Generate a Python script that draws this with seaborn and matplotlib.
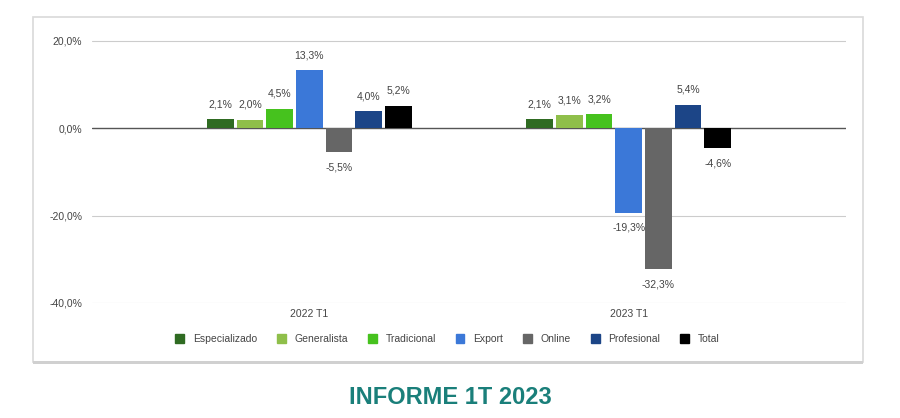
import matplotlib
matplotlib.use("Agg")
import matplotlib.pyplot as plt
import matplotlib.patches as mpatches
import seaborn as sns
import pandas as pd

periods = ["2022 T1", "2023 T1"]
channels = ["Especializado", "Generalista", "Tradicional", "Export", "Online", "Profesional", "Total"]
values_2022 = [2.1, 2.0, 4.5, 13.3, -5.5, 4.0, 5.2]
values_2023 = [2.1, 3.1, 3.2, -19.3, -32.3, 5.4, -4.6]
colors = ["#2f6b22", "#8fbf4a", "#46c21e", "#3b78d8", "#666666", "#1c4587", "#000000"]
yticks = [20, 0, -20, -40]
title = "INFORME 1T 2023"

rows = []
for p, vals in zip(periods, [values_2022, values_2023]):
    for c, v in zip(channels, vals):
        rows.append({"period": p, "channel": c, "value": v})
df = pd.DataFrame(rows)

sns.set_theme(style="white")
plt.rcParams["font.family"] = ["Liberation Sans", "DejaVu Sans"]

fig = plt.figure(figsize=(9, 4.18), dpi=100)
# card border
fig.patches.append(mpatches.Rectangle((33/900, 1-362/418), (863-33)/900, (362-17)/418,
                                      transform=fig.transFigure, fill=False,
                                      edgecolor="#d9d9d9", linewidth=1.2))
fig.patches.append(mpatches.Rectangle((33/900, 1-364/418), (863-33)/900, 3/418,
                                      transform=fig.transFigure, color="#d0d0d0", linewidth=0))

ax = fig.add_axes([92/900, 1-303/418, (846-92)/900, (303-30)/418])
sns.barplot(data=df, x="period", y="value", hue="channel", hue_order=channels,
            palette=colors, width=0.65, gap=0.1, ax=ax, legend=False,
            saturation=1, linewidth=0)

ax.set_xlim(-0.68, 1.68)
ax.set_ylim(-40, 22.5)
ax.set_yticks(yticks)
ax.set_yticklabels([f"{t:.1f}".replace(".", ",") + "%" for t in yticks])
for t in yticks:
    ax.axhline(t, color="#cccccc" if t != 0 else "#555555", linewidth=0.8 if t != 0 else 1.0, zorder=0.5)
for s in ax.spines.values():
    s.set_visible(False)
ax.tick_params(axis="y", length=0, labelsize=7.5, colors="#444444", pad=7)
ax.tick_params(axis="x", length=0, labelsize=7.5, colors="#444444", pad=4)
ax.set_xlabel("")
ax.set_ylabel("")
ax.patch.set_alpha(0)

for cont in ax.containers:
    labels = [f"{b.get_height():.1f}".replace(".", ",") + "%" for b in cont]
    ax.bar_label(cont, labels=labels, padding=7, fontsize=7.5, color="#444444")

handles = [mpatches.Patch(color=c, label=ch) for c, ch in zip(colors, channels)]
fig.legend(handles=handles, loc="center", bbox_to_anchor=(0.497, 1-339/418), ncol=7,
           frameon=False, fontsize=7.5, handlelength=0.85, handleheight=0.85,
           handletextpad=0.85, columnspacing=1.9, labelcolor="#444444")

fig.text(0.5, 1-397/418, title, ha="center", va="center", fontsize=17, fontweight="bold",
         color="#1a7f7a", family=["Liberation Sans Narrow", "Liberation Sans", "DejaVu Sans"])

fig.savefig("out.png", dpi=100)
